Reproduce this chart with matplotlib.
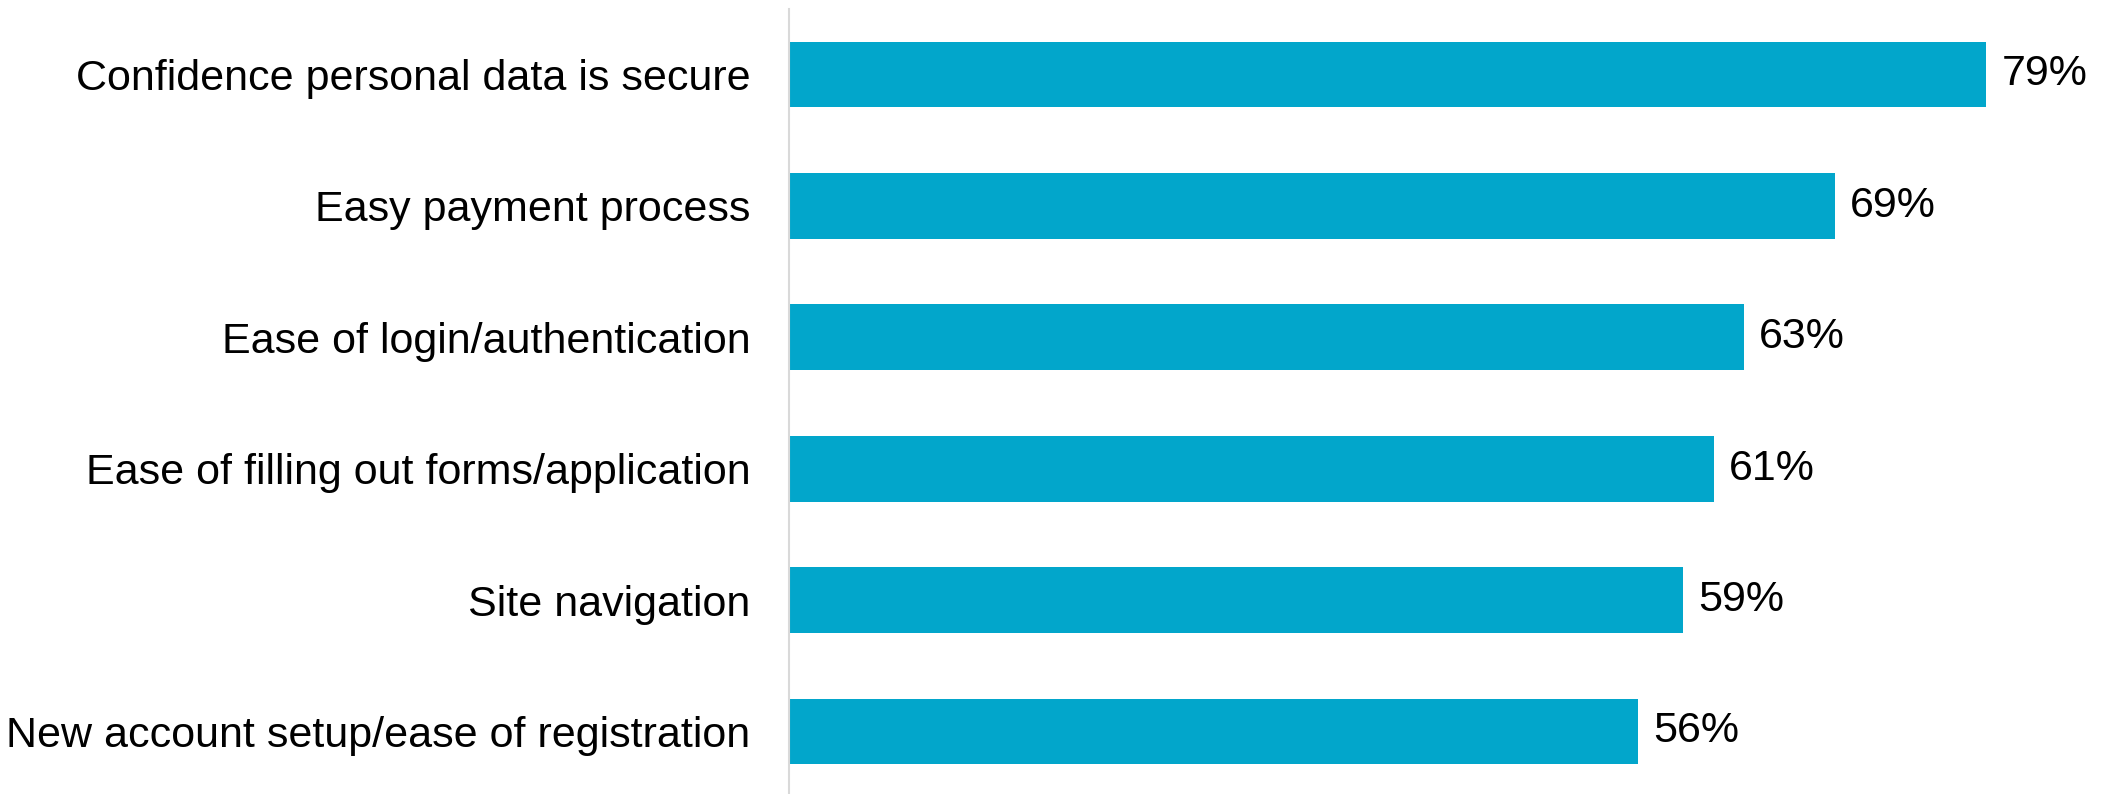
import matplotlib
matplotlib.use('Agg')
import matplotlib.pyplot as plt

plt.rcParams['font.family'] = ['Liberation Sans', 'DejaVu Sans']

categories = ['Confidence personal data is secure',
              'Easy payment process',
              'Ease of login/authentication',
              'Ease of filling out forms/application',
              'Site navigation',
              'New account setup/ease of registration']
values = [79, 69, 63, 61, 59, 56]
value_labels = ['79%', '69%', '63%', '61%', '59%', '56%']

bar_color = '#02A6CB'

fig = plt.figure(figsize=(21.03, 7.94), dpi=100)
ax = fig.add_axes([0.3752, -0.004, 0.6248, 0.993])

ypos = list(range(len(categories)))
ax.barh(ypos, values, height=0.5, color=bar_color)
for y, v, lab in zip(ypos, values, value_labels):
    ax.text(v + 1.0, y, lab, va='center', ha='left', fontsize=31, color='black')

ax.set_ylim(len(categories) - 0.5, -0.5)
ax.set_xlim(0, 86.7)
ax.set_yticks(ypos)
ax.set_yticklabels(categories, fontsize=31)
ax.tick_params(axis='y', length=0, pad=28)
ax.set_xticks([])
for s in ['top', 'right', 'bottom']:
    ax.spines[s].set_visible(False)
ax.spines['left'].set_color('#D9D9D9')
ax.spines['left'].set_linewidth(1.5)

fig.savefig('out.png', dpi=100)
